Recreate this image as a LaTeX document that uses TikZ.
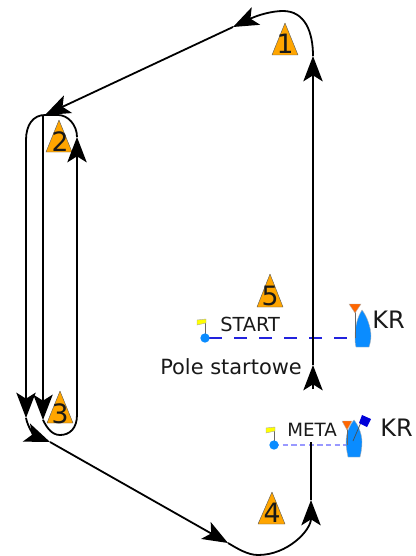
\documentclass[tikz,border=0pt]{standalone}
\usepackage{fontspec}
\setmainfont{DejaVu Sans}
\usetikzlibrary{arrows.meta}
\definecolor{markorange}{HTML}{FFA500}
\definecolor{boatblue}{HTML}{0A8CFF}
\definecolor{flagorange}{HTML}{FF6600}
\definecolor{flagyellow}{HTML}{FFFF00}
\definecolor{lineblue}{HTML}{2222DD}
\definecolor{lightline}{HTML}{9999FF}
\tikzset{
  course/.style={draw=black,line width=1.35pt,-{Stealth[length=19pt,width=14.5pt,inset=4.5pt]}},
  plainpath/.style={draw=black,line width=1.35pt},
  markbox/.style={fill=markorange,draw=gray!70!black,line width=0.3pt,line join=round},
  marknum/.style={font=\fontsize{20}{22}\selectfont,inner sep=0pt,text=black!90},
  lab/.style={font=\fontsize{14.5}{16}\selectfont,inner sep=0pt,text=black!90},
  krlab/.style={font=\fontsize{18}{20}\selectfont,inner sep=0pt,text=black!90},
  boat/.style={fill=boatblue,draw=gray!60,line width=0.3pt},
  pole/.style={draw=gray!80!black,line width=0.7pt},
  pin/.style={circle,fill=boatblue,draw=none,inner sep=0pt,minimum size=7pt}
}
\begin{document}
\begin{tikzpicture}[x=0.75pt,y=-0.75pt]
\useasboundingbox (0,0) rectangle (415,556);
% marks
\draw[markbox] (285,23) -- (272,55) -- (298,55) -- cycle;
\node[marknum] (n1) at (285,44) {1};
\draw[markbox] (59,120) -- (46,152) -- (72,152) -- cycle;
\node[marknum] (n2) at (60,142) {2};
\draw[markbox] (60,391) -- (47,423) -- (73,423) -- cycle;
\node[marknum] (n3) at (60,414) {3};
\draw[markbox] (270,274) -- (257,307) -- (283,307) -- cycle;
\node[marknum] (n5) at (270,296) {5};
\draw[markbox] (272,492) -- (258,524) -- (285,524) -- cycle;
\node[marknum] (n4) at (272,513) {4};
% course coordinates
\coordinate (a) at (311,442);
\coordinate (b) at (311,500);
\coordinate (c) at (228,543);
\coordinate (d) at (50,442);
\coordinate (e) at (26,418);
\coordinate (f) at (26,140);
\coordinate (g) at (45,115);
\coordinate (g2) at (43,115);
\coordinate (h) at (43,420);
\coordinate (i) at (77,137);
\coordinate (j) at (233,27);
\coordinate (k) at (313,56);
\coordinate (l) at (313,365);
\coordinate (m) at (313,389);
% start line and meta line
\coordinate (sl) at (205,338);
\coordinate (sr) at (356,338);
\coordinate (ml) at (274,445);
\coordinate (mr) at (347,445);
\draw[lineblue,line width=0.9pt,dash pattern=on 9.75pt off 9pt,dash phase=15.75pt] (sl) -- (sr);
\draw[lightline,line width=0.9pt,dash pattern=on 4pt off 2.5pt] (ml) -- (mr);
% course
\draw[course] (m) -- (l);
\draw[course] (l) -- (k);
\draw[course] (k) .. controls (313,32) and (305,11) .. (283,11) .. controls (272,11) and (258,15) .. (j);
\draw[course] (j) -- (g);
\draw[plainpath] (g) .. controls (33,115) and (26,125) .. (f);
\draw[course] (f) -- (e);
\draw[course] (g2) -- (h);
\draw[plainpath] (h) .. controls (47,428) and (52,435) .. (60,435) .. controls (70,435) and (77,428) .. (77,415);
\draw[course] (77,415) -- (i);
\draw[plainpath] (i) .. controls (77,125) and (68,115) .. (58,115) -- (g);
\draw[course] (e) .. controls (28,428) and (35,436) .. (d);
\draw[course] (d) -- (c);
\draw[plainpath] (a) -- (b);
\draw[course] (c) .. controls (238,549) and (248,555) .. (258,555) .. controls (288,555) and (311,530) .. (b);
% start gear
\draw[pole] (sl) -- (205,320);
\draw[fill=flagyellow,draw=gray!70,line width=0.3pt] (197,320) -- (206,319) -- (206,323) -- (197,325) -- cycle;
\node[pin] (sp) at (sl) {};
\node[lab,anchor=west] (start) at (220,324) {START};
\node[lab,anchor=west,font=\fontsize{15.7}{17}\selectfont] (pole) at (160,367) {Pole startowe};
\fill[boat,draw=gray!60] (362,310) .. controls (367,316) and (371,328) .. (371,336) .. controls (371,340) and (370,344) .. (369,347) -- (356,347) .. controls (355,344) and (355,340) .. (355,336) .. controls (355,326) and (358,316) .. (362,310) -- cycle;
\draw[pole] (355,312) -- (355,338);
\fill[flagorange,draw=gray!60,line width=0.3pt] (349,304) -- (361,304) -- (355,313) -- cycle;
\node[krlab,anchor=west] (kr1) at (372,320) {KR};
% meta gear
\draw[pole] (ml) -- (274,428);
\draw[fill=flagyellow,draw=gray!70,line width=0.3pt] (266,428) -- (275,427) -- (275,431) -- (266,433) -- cycle;
\node[pin] (mp) at (ml) {};
\node[lab,anchor=west,font=\fontsize{13.7}{15}\selectfont] (meta) at (287,430) {META};
\fill[boat,draw=gray!60] (354,420) .. controls (359,426) and (362,435) .. (362,442) .. controls (362,448) and (361,453) .. (360,457) -- (348,457) .. controls (347,452) and (346,447) .. (346,442) .. controls (346,434) and (349,426) .. (354,420) -- cycle;
\draw[pole] (347,429) -- (347,445);
\draw[black!70,line width=0.5pt] (353,441) -- (362,420);
\fill[flagorange,draw=gray!60,line width=0.3pt] (342,421) -- (352,421) -- (347,430) -- cycle;
\fill[blue!85!black] (362,415) -- (371,419) -- (367,427) -- (359,423) -- cycle;
\node[krlab,anchor=west] (kr2) at (380,428) {KR};
\end{tikzpicture}
\end{document}
